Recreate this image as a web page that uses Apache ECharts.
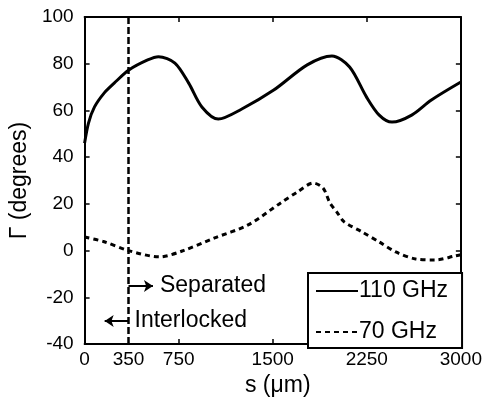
<!DOCTYPE html>
<html>
<head>
<meta charset="utf-8">
<script src="https://cdn.jsdelivr.net/npm/echarts@6/dist/echarts.min.js"></script>
<style>
  html, body { margin: 0; padding: 0; background: #fff; }
  #main { width: 485px; height: 407px; }
</style>
</head>
<body>
<div id="main"></div>
<script>
// 110 GHz curve
var s110 = [0, 31, 79, 157, 236, 353, 503, 589, 720, 830, 935, 1066, 1250, 1508, 1775, 1972, 2113, 2247, 2349, 2451, 2608, 2765, 3000];
var g110 = [46, 54.6, 61.5, 67.5, 71.7, 77.3, 81.6, 83, 80.3, 71.7, 61.5, 56.3, 60.5, 68.7, 79.5, 83.3, 78.6, 65.8, 58, 55, 58, 64.5, 72.2];
// 70 GHz curve
var s70 = [0, 150, 350, 597, 778, 1037, 1304, 1563, 1697, 1823, 1901, 1956, 2011, 2070, 2215, 2349, 2482, 2639, 2797, 2954, 3000];
var g70 = [5.8, 3.9, 0, -2.7, -0.2, 5.4, 11, 20.4, 25.1, 28.9, 26.8, 20.4, 16.5, 12.3, 7.9, 3.7, -0.6, -3.6, -4, -2.3, -1.8];

var xLabels = [0, 350, 750, 1500, 2250, 3000];
var xTicks = [0, 750, 1500, 2250, 3000];
var boundary = 350;

function pairs(xs, ys) {
    var out = [];
    for (var i = 0; i < xs.length; i++) out.push([xs[i], ys[i]]);
    return out;
}

var font = 'Liberation Sans, Arial, sans-serif';
var annFont = { color: '#000', fontSize: 23, fontFamily: font };

var myChart = echarts.init(document.getElementById('main'));
var option = {
    backgroundColor: '#FFFFFF',
    animation: false,
    grid: { left: 81, right: 22, top: 17, bottom: 63 },
    legend: {
        orient: 'vertical',
        left: 308,
        top: 273,
        padding: [5, 14, 3, 7],
        itemGap: 15,
        itemWidth: 42,
        itemHeight: 14,
        borderColor: '#000',
        borderWidth: 2,
        borderRadius: 0,
        backgroundColor: '#fff',
        itemStyle: { opacity: 0 },
        textStyle: { color: '#000', fontSize: 23, fontFamily: font, lineHeight: 26, padding: [0, 0, 0, -4] },
        data: ['110 GHz', '70 GHz']
    },
    xAxis: [
        {
            type: 'value',
            min: 0, max: 3000, interval: 750,
            name: 's (\u03bcm)',
            nameLocation: 'middle',
            nameGap: 29,
            nameTextStyle: { color: '#000', fontSize: 23, fontFamily: font, padding: [0, 0, 0, 10] },
            axisLine: { onZero: false, lineStyle: { color: '#000', width: 2 } },
            axisTick: { inside: true, length: 5, customValues: xTicks, lineStyle: { color: '#000', width: 1.5 } },
            axisLabel: {
                customValues: xLabels, color: '#000', fontSize: 19, fontFamily: font, margin: 6,
                formatter: function (v) { return String(v); }
            },
            splitLine: { show: false }
        },
        {
            type: 'value', position: 'top',
            min: 0, max: 3000, interval: 750,
            axisLine: { show: true, onZero: false, lineStyle: { color: '#000', width: 2 } },
            axisTick: { inside: true, length: 5, lineStyle: { color: '#000', width: 1.5 } },
            axisLabel: { show: false },
            splitLine: { show: false }
        }
    ],
    yAxis: [
        {
            type: 'value',
            min: -40, max: 100, interval: 20,
            name: '\u0393 (degrees)',
            nameLocation: 'middle',
            nameGap: 44,
            nameTextStyle: { color: '#000', fontSize: 23, fontFamily: font },
            axisLine: { show: true, onZero: false, lineStyle: { color: '#000', width: 2 } },
            axisTick: { show: true, inside: true, length: 5, lineStyle: { color: '#000', width: 1.5 } },
            axisLabel: { color: '#000', fontSize: 19, fontFamily: font, margin: 11 },
            splitLine: { show: false }
        },
        {
            type: 'value', position: 'right',
            min: -40, max: 100, interval: 20,
            axisLine: { show: true, onZero: false, lineStyle: { color: '#000', width: 2 } },
            axisTick: { show: true, inside: true, length: 5, lineStyle: { color: '#000', width: 1.5 } },
            axisLabel: { show: false },
            splitLine: { show: false }
        }
    ],
    series: [
        {
            name: '110 GHz',
            type: 'line',
            data: pairs(s110, g110),
            smooth: 0.3,
            showSymbol: false,
            symbol: 'none',
            lineStyle: { color: '#000', width: 3 },
            itemStyle: { color: '#000' },
            z: 3,
            markLine: {
                silent: true,
                animation: false,
                symbol: 'none',
                lineStyle: { color: '#000', width: 2.5, type: [7, 3] },
                label: { show: false },
                data: [{ xAxis: boundary }]
            }
        },
        {
            name: '70 GHz',
            type: 'line',
            data: pairs(s70, g70),
            smooth: 0.3,
            showSymbol: false,
            symbol: 'none',
            lineStyle: { color: '#000', width: 3, type: [5, 4] },
            itemStyle: { color: '#000' },
            z: 3,
            markLine: {
                silent: true,
                animation: false,
                symbol: ['none', 'arrow'],
                symbolSize: [9, 9],
                lineStyle: { color: '#000', width: 2, type: 'solid' },
                data: [
                    [
                        { coord: [boundary, -15.2], label: Object.assign({ show: true, position: 'end', formatter: 'Separated', distance: 7 }, annFont) },
                        { coord: [545, -15.2] }
                    ],
                    [
                        { coord: [boundary, -30.1], label: Object.assign({ show: true, position: 'start', formatter: 'Interlocked', distance: 6 }, annFont) },
                        { coord: [160, -30.1] }
                    ]
                ]
            }
        }
    ]
};
myChart.setOption(option);
window.addEventListener("resize", function () {
    myChart.resize();
});
</script>
</body>
</html>
